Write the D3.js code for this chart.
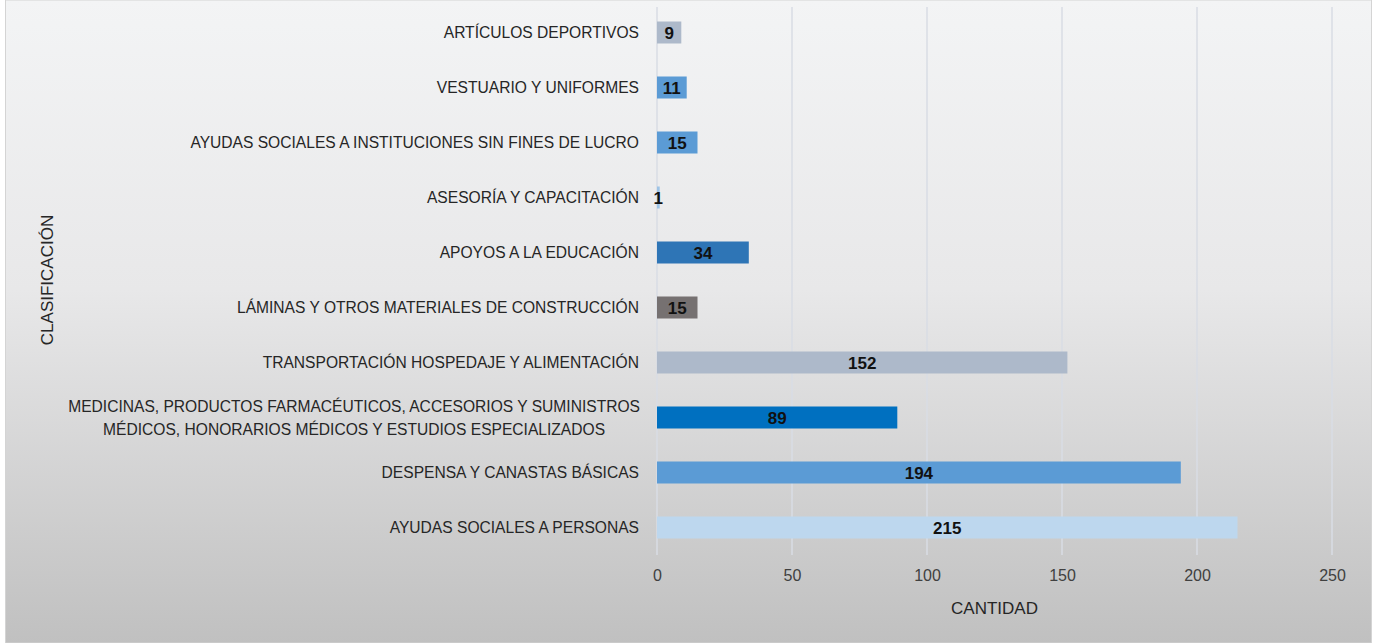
<!DOCTYPE html>
<html>
<head>
<meta charset="utf-8">
<script src="https://cdn.jsdelivr.net/npm/d3@7"></script>
<style>
  body { margin: 0; background: #fff; }
  svg { display: block; }
  .tick text { font-family: "Liberation Sans", Arial, sans-serif; }
</style>
</head>
<body>
<svg id="chart" width="1375" height="643"></svg>
<script>
"use strict";

// categories from top to bottom, as in the picture
let categories = [
  "ARTÍCULOS DEPORTIVOS",
  "VESTUARIO Y UNIFORMES",
  "AYUDAS SOCIALES A INSTITUCIONES SIN FINES DE LUCRO",
  "ASESORÍA Y CAPACITACIÓN",
  "APOYOS A LA EDUCACIÓN",
  "LÁMINAS Y OTROS MATERIALES DE CONSTRUCCIÓN",
  "TRANSPORTACIÓN HOSPEDAJE Y ALIMENTACIÓN",
  "MEDICINAS, PRODUCTOS FARMACÉUTICOS, ACCESORIOS Y SUMINISTROS|MÉDICOS, HONORARIOS MÉDICOS Y ESTUDIOS ESPECIALIZADOS",
  "DESPENSA Y CANASTAS BÁSICAS",
  "AYUDAS SOCIALES A PERSONAS"
];
let values = [9, 11, 15, 1, 34, 15, 152, 89, 194, 215];
let barColors = ["#adb9ca", "#5b9bd5", "#5b9bd5", "#9dc3e6", "#2e75b6",
                 "#767171", "#adb9ca", "#0070c0", "#5b9bd5", "#bdd7ee"];
let xTicks = [0, 50, 100, 150, 200, 250];

let svg = d3.select("#chart");
let margin = { top: 5, right: 43, bottom: 88, left: 657 };
let W = 1375, H = 643;
let font = "'Liberation Sans', Arial, sans-serif";

// background frame with the grey gradient
let defs = svg.append("defs");
let grad = defs.append("linearGradient").attr("id", "bg").attr("x1", 0).attr("y1", 0).attr("x2", 0).attr("y2", 1);
grad.append("stop").attr("offset", "0%").attr("stop-color", "#f3f4f5");
grad.append("stop").attr("offset", "45%").attr("stop-color", "#e8e8e9");
grad.append("stop").attr("offset", "100%").attr("stop-color", "#c0c0c0");

svg.append("rect").attr("x", 5.5).attr("y", 0).attr("width", 1366).attr("height", 643)
  .attr("fill", "url(#bg)").attr("stroke", "#d4d4d4").attr("stroke-width", 1);

let x = d3.scaleLinear().domain([0, 250]).range([margin.left, W - margin.right]);
let y = d3.scaleBand().domain(categories).range([margin.top, H - margin.bottom]).paddingInner(0.6).paddingOuter(0.3);

// gridlines
svg.append("g").selectAll("line").data(xTicks).join("line")
  .attr("x1", d => x(d)).attr("x2", d => x(d))
  .attr("y1", margin.top + 2).attr("y2", H - margin.bottom)
  .attr("stroke", "#d9dde5").attr("stroke-width", 1.5);

// x axis ticks
let xAxis = d3.axisBottom(x).tickValues(xTicks).tickSize(0).tickPadding(15);
let gx = svg.append("g").attr("transform", `translate(0,${H - margin.bottom})`).call(xAxis);
gx.select(".domain").remove();
gx.selectAll("text").style("font-size", "16px").attr("fill", "#404040");

// bars
svg.append("g").selectAll("rect").data(values).join("rect")
  .attr("x", x(0))
  .attr("y", (d, i) => y(categories[i]))
  .attr("width", d => x(d) - x(0))
  .attr("height", y.bandwidth())
  .attr("fill", (d, i) => barColors[i]);

// value labels centered in bar
svg.append("g").selectAll("text").data(values).join("text")
  .attr("x", d => (x(0) + x(d)) / 2)
  .attr("y", (d, i) => y(categories[i]) + y.bandwidth() / 2)
  .attr("dy", "0.38em")
  .attr("text-anchor", "middle")
  .style("font-family", font)
  .style("font-size", "17px").style("font-weight", "bold")
  .attr("fill", "#111")
  .text(d => d);

// category labels
let catG = svg.append("g");
categories.forEach((c, i) => {
  let lines = c.split("|");
  let cy = y(c) + y.bandwidth() / 2;
  let t = catG.append("text")
    .style("font-family", font)
    .style("font-size", "15.6px")
    .attr("fill", "#262626");
  if (lines.length === 1) {
    t.attr("text-anchor", "end").attr("x", margin.left - 18).attr("y", cy).attr("dy", "0.36em").text(c);
  } else {
    t.attr("text-anchor", "middle");
    lines.forEach((l, k) => {
      t.append("tspan").attr("x", 0).attr("y", cy + (k - 0.5) * 23).attr("dy", "0.36em").text(l);
    });
    let bb = t.node().getBBox();
    t.selectAll("tspan").attr("x", margin.left - 17 - bb.width / 2);
  }
});

// axis titles
svg.append("text")
  .attr("x", (x(0) + x(250)) / 2).attr("y", 614)
  .attr("text-anchor", "middle")
  .style("font-family", font).style("font-size", "17px")
  .attr("fill", "#262626").text("CANTIDAD");

svg.append("text")
  .attr("transform", "translate(53,280) rotate(-90)")
  .attr("text-anchor", "middle")
  .style("font-family", font).style("font-size", "17px")
  .attr("fill", "#262626").text("CLASIFICACIÓN");
</script>
</body>
</html>
